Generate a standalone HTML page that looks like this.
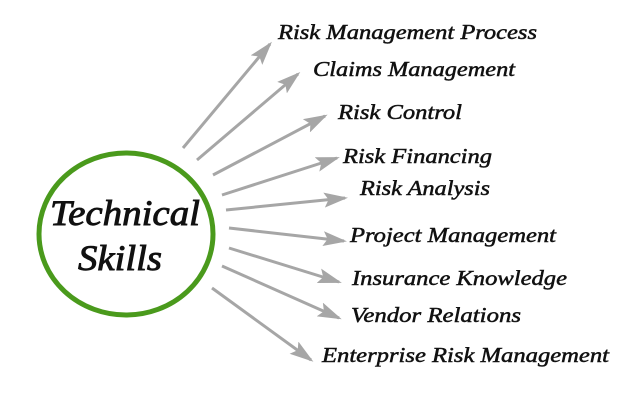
<!DOCTYPE html>
<html><head><style>html,body{margin:0;padding:0;background:#fff;}svg{display:block}</style></head>
<body>
<svg width="636" height="400" xmlns="http://www.w3.org/2000/svg">
<defs>
<marker id="a" markerWidth="8" markerHeight="5" refX="7" refY="2.5" orient="auto" markerUnits="strokeWidth">
<path d="M0,0 L8,2.5 L0,5 L1.5,2.5 z" fill="#a6a6a6"/>
</marker>
</defs>
<ellipse cx="126" cy="234" rx="87" ry="81" fill="none" stroke="#4a9a1c" stroke-width="5"/>
<g stroke="#a6a6a6" stroke-width="3" marker-end="url(#a)">
<line x1="183" y1="148" x2="270" y2="44"/>
<line x1="197" y1="160" x2="298" y2="74"/>
<line x1="213" y1="175" x2="325" y2="116"/>
<line x1="222" y1="195" x2="337" y2="158"/>
<line x1="226" y1="210" x2="345" y2="198"/>
<line x1="229" y1="228" x2="344" y2="241"/>
<line x1="229" y1="248" x2="339" y2="282"/>
<line x1="222" y1="266" x2="339" y2="318"/>
<line x1="212" y1="288" x2="311" y2="360"/>
</g>
<g font-family="Liberation Serif, serif" font-style="italic" fill="#111" stroke="#111" stroke-width="0.5">
<text x="50" y="225" font-size="36" stroke-width="0.9" textLength="150" lengthAdjust="spacingAndGlyphs">Technical</text>
<text x="78" y="270" font-size="36" stroke-width="0.9" textLength="84" lengthAdjust="spacingAndGlyphs">Skills</text>
<g font-size="21">
<text x="278" y="39" textLength="259" lengthAdjust="spacingAndGlyphs">Risk Management Process</text>
<text x="313" y="76" textLength="202" lengthAdjust="spacingAndGlyphs">Claims Management</text>
<text x="338" y="119" textLength="124" lengthAdjust="spacingAndGlyphs">Risk Control</text>
<text x="343" y="163" textLength="149" lengthAdjust="spacingAndGlyphs">Risk Financing</text>
<text x="360" y="195" textLength="130" lengthAdjust="spacingAndGlyphs">Risk Analysis</text>
<text x="350" y="242" textLength="206" lengthAdjust="spacingAndGlyphs">Project Management</text>
<text x="352" y="285" textLength="215" lengthAdjust="spacingAndGlyphs">Insurance Knowledge</text>
<text x="351" y="322" textLength="170" lengthAdjust="spacingAndGlyphs">Vendor Relations</text>
<text x="322" y="362" textLength="287" lengthAdjust="spacingAndGlyphs">Enterprise Risk Management</text>
</g>
</g>
</svg>
</body></html>
